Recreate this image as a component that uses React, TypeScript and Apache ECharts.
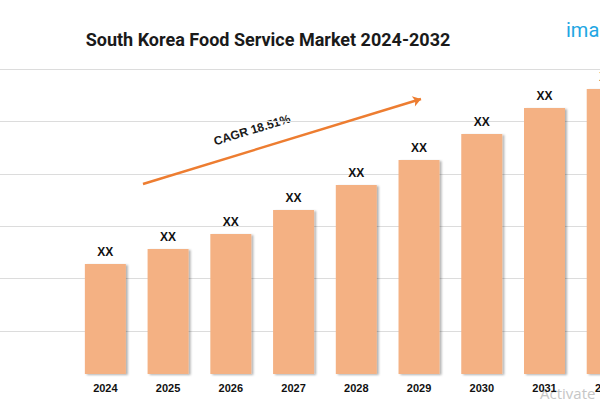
import React, { useEffect, useRef } from "react";
import * as echarts from "echarts";

const title = "South Korea Food Service Market 2024-2032";
const years = ["2024", "2025", "2026", "2027", "2028", "2029", "2030", "2031", "2032"];
const marketValues = [11.0, 12.5, 14.0, 16.4, 18.9, 21.4, 24.0, 26.6, 28.5];
const valueLabels = ["XX", "XX", "XX", "XX", "XX", "XX", "XX", "XX", "XX"];
const gridTicks = [0, 1, 2, 3, 4, 5];
const cagrText = "CAGR 18.51%";

export default function App() {
  const ref = useRef<HTMLDivElement>(null);
  useEffect(() => {
    document.body.style.margin = "0";
    if (!ref.current) return;
    const chart = echarts.init(ref.current, undefined, { renderer: "svg" });
    const font = "'Liberation Sans', Arial, sans-serif";
    chart.setOption({
      animation: false,
      backgroundColor: "#ffffff",
      grid: [
        { left: 0, right: 0, top: 69, bottom: 69, outerBoundsMode: "none" },
        { left: 74, width: 564.6, top: 69, bottom: 26, outerBoundsMode: "none", containLabel: false },
      ],
      xAxis: [
        { type: "category", gridIndex: 0, data: years, show: false },
        {
          type: "category",
          gridIndex: 1,
          data: years,
          axisLine: { show: false },
          axisTick: { show: false },
          axisLabel: {
            margin: 8,
            color: "#111",
            fontWeight: "bold",
            fontSize: 11,
            fontFamily: font,
          },
        },
      ],
      yAxis: [
        {
          type: "value",
          gridIndex: 0,
          min: gridTicks[0],
          max: gridTicks[gridTicks.length - 1],
          interval: 1,
          axisLabel: { show: false },
          axisLine: { show: false },
          axisTick: { show: false },
          splitLine: { show: true, lineStyle: { color: "#dcdcdc", width: 1 } },
        },
        {
          type: "value",
          gridIndex: 1,
          min: 0,
          max: 30.5,
          show: false,
          splitLine: { show: false },
        },
      ],
      series: [
        {
          type: "bar",
          xAxisIndex: 1,
          yAxisIndex: 1,
          data: marketValues,
          barWidth: 41,
          itemStyle: {
            color: "#F4B183",
            shadowColor: "rgba(0,0,0,0.3)",
            shadowBlur: 2,
            shadowOffsetX: 2,
            shadowOffsetY: 1,
          },
          label: {
            show: true,
            position: "top",
            distance: 6,
            formatter: (p: any) => valueLabels[p.dataIndex],
            color: "#111",
            fontWeight: "bold",
            fontSize: 12,
            fontFamily: font,
          },
          markLine: {
            silent: true,
            symbol: ["none", "arrow"],
            symbolSize: 8,
            label: { show: false },
            lineStyle: { color: "#ED7D31", width: 2.5, type: "solid" },
            data: [[{ x: 143, y: 184 }, { x: 421, y: 99 }]],
          },
        },
      ],
      graphic: [
        {
          type: "text",
          x: 268,
          y: 39,
          style: {
            text: title,
            fill: "#1a1a1a",
            fontSize: 18,
            fontWeight: "bold",
            fontFamily: "Roboto, sans-serif",
            textAlign: "center",
            textVerticalAlign: "middle",
          },
        },
        {
          type: "text",
          x: 566,
          y: 29.5,
          style: {
            text: "imarc",
            fill: "#22A6E3",
            fontSize: 20,
            fontFamily: "Roboto, sans-serif",
            textAlign: "left",
            textVerticalAlign: "middle",
          },
        },
        {
          type: "text",
          x: 252,
          y: 130,
          rotation: (17 * Math.PI) / 180,
          style: {
            text: cagrText,
            fill: "#1a1a1a",
            fontSize: 12,
            fontWeight: "bold",
            fontFamily: font,
            textAlign: "center",
            textVerticalAlign: "middle",
          },
        },
        {
          type: "text",
          x: 540,
          y: 393,
          style: {
            text: "Activate Windows",
            fill: "#c6c6c6",
            fontSize: 15,
            fontFamily: "'Open Sans', sans-serif",
            textAlign: "left",
            textVerticalAlign: "middle",
          },
        },
      ],
    });
    return () => chart.dispose();
  }, []);
  return <div ref={ref} style={{ width: 600, height: 400 }} />;
}
